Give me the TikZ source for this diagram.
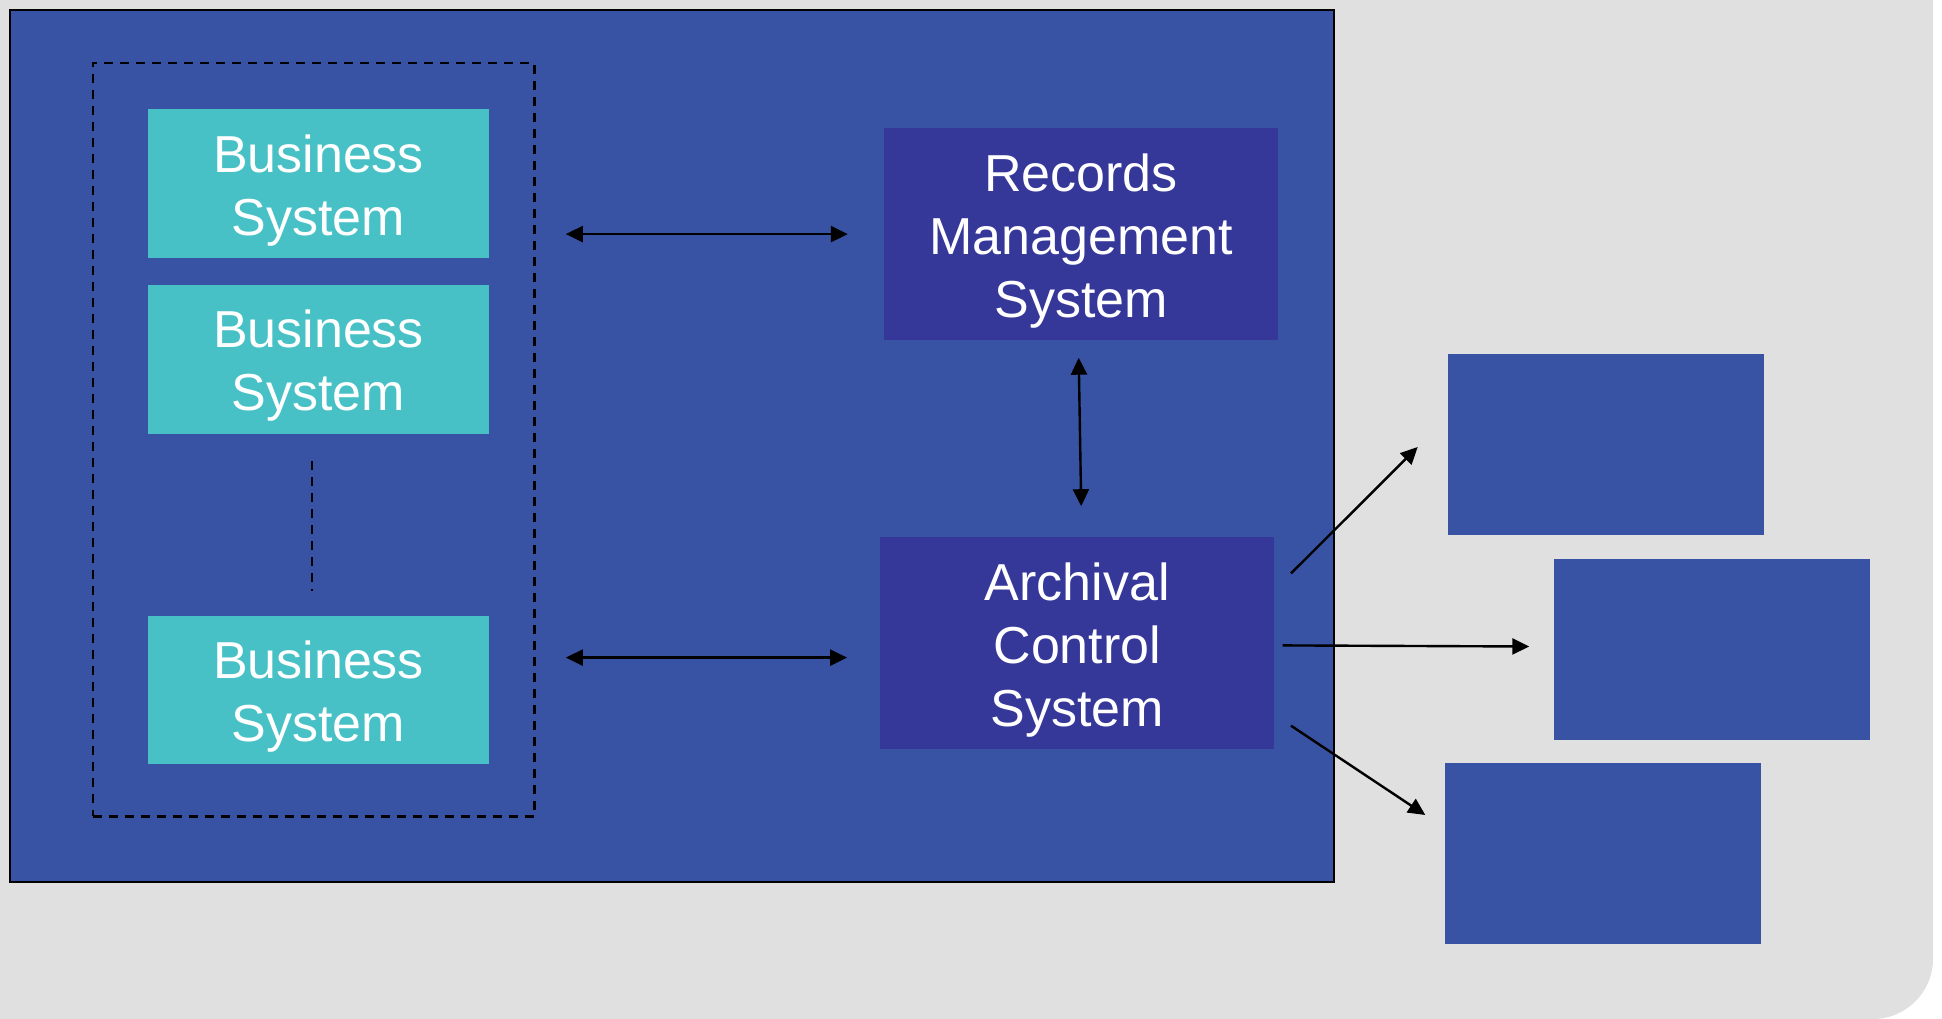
\documentclass[tikz,border=0pt]{standalone}
\usepackage{fontspec}
\setmainfont{Liberation Sans}
\usetikzlibrary{arrows.meta,calc}
\definecolor{bgray}{HTML}{E0E0E0}
\definecolor{mblue}{HTML}{3853A4}
\definecolor{bcyan}{HTML}{48C1C6}
\definecolor{dblue}{HTML}{353899}
\newcommand\toppad{\rule{0pt}{51pt}}
\begin{document}
\begin{tikzpicture}[x=1pt,y=-1pt,
 box/.style={draw=none, inner sep=0pt, align=center, text=white, font=\fontsize{52pt}{63pt}\selectfont},
 bizbox/.style={box, fill=bcyan, minimum width=341pt, minimum height=148.5pt},
 sysbox/.style={box, fill=dblue, minimum width=394pt, minimum height=212pt},
 outbox/.style={fill=mblue, minimum width=316pt, minimum height=181pt, inner sep=0pt},
 tip/.tip={Triangle[length=17pt,width=16pt]},
 arr/.style={line width=2.4pt, -tip},
 darr/.style={line width=2.4pt, tip-tip},
]
\useasboundingbox (0,0) rectangle (1942,1019);
\fill[bgray] (0,0) -- (1933,0) -- (1933,959) .. controls (1933,992) and (1906,1019) .. (1873,1019) -- (0,1019) -- cycle;

\node[draw=black, line width=2.5pt, fill=mblue, minimum width=1324pt, minimum height=872pt, inner sep=0pt, anchor=north west] (main) at (8.7,8.7) {};
\node[draw=black, line width=2.5pt, dash pattern=on 9pt off 7pt, minimum width=441.7pt, minimum height=753.2pt, inner sep=0pt, anchor=north west] (group) at (91.6,61.8) {};

\node[bizbox] (b1) at (318.5,183.4) {\toppad Business\\System};
\node[bizbox] (b2) at (318.5,359.3) {\toppad Business\\System};
\node[bizbox] (b3) at (318.5,689.8) {\toppad Business\\System};

\node[sysbox] (rms) at (1081,234.1) {\toppad Records\\Management\\System};
\node[sysbox] (acs) at (1077.3,643.4) {\toppad Archival\\Control\\System};

\node[outbox] (r1) at (1605.7,444.6) {};
\node[outbox] (r2) at (1712,649) {};
\node[outbox] (r3) at (1603,853.4) {};

\draw[line width=2.2pt, dash pattern=on 9pt off 7pt] ([xshift=-6.5pt,yshift=-27.5pt]b2.south) -- ([xshift=-6.5pt,yshift=24.5pt]b3.north);

\draw[darr] ([xshift=30pt]group.east |- rms.west) -- ([xshift=-36pt]rms.west);
\draw[darr] ([xshift=30pt,yshift=-14.2pt]group.east |- acs.west) -- ([xshift=-33pt,yshift=-14.2pt]acs.west);
\draw[darr] ([xshift=-2.3pt,yshift=-17.4pt]rms.south) -- ([xshift=3.9pt,yshift=31pt]acs.north);

\draw[arr] ([xshift=16.5pt,yshift=70pt]acs.east) -- ([xshift=-29.8pt,yshift=-2.4pt]r1.west);
\draw[arr] ([xshift=8pt,yshift=-2pt]acs.east) -- ([xshift=-24.5pt,yshift=2.5pt]r2.west);
\draw[arr] ([xshift=16.5pt,yshift=-82.3pt]acs.east) -- ([xshift=-19.5pt,yshift=38.4pt]r3.west);
\end{tikzpicture}
\end{document}
